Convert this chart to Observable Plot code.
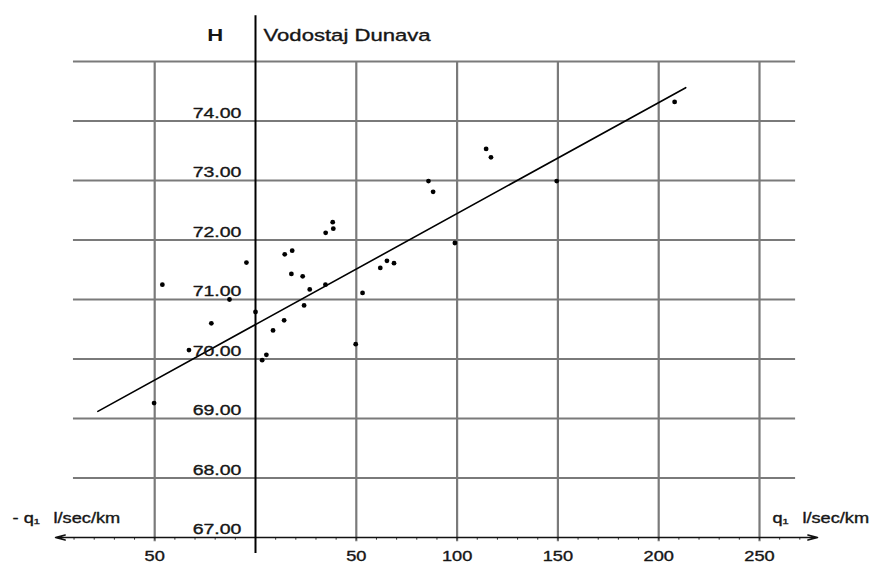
<!DOCTYPE html>
<html>
<head>
<meta charset="utf-8">
<script src="https://cdn.jsdelivr.net/npm/d3@7"></script>
<script src="https://cdn.jsdelivr.net/npm/@observablehq/plot@0.6"></script>
<style>
  body { margin: 0; background: #fff; }
</style>
</head>
<body>
<div id="chart"></div>
<script>
// Discharge q (l/sec/km) and water level H (Vodostaj Dunava)
const qValues = [-50.3, -46.2, -33, -21.9, -12.9, -4.5, 0, 3.3, 5.4, 8.7, 14.2, 14.5, 18.2, 17.8, 23.4, 24.1, 26.9, 34.7, 34.8, 38.6, 38.3, 49.7, 53.1, 61.9, 65.2, 68.7, 85.8, 88.1, 98.9, 114.4, 116.8, 149.4, 207.9];
const hValues = [69.26, 71.25, 70.15, 70.6, 71.0, 71.62, 70.79, 69.98, 70.07, 70.48, 70.65, 71.76, 71.82, 71.43, 71.39, 70.90, 71.17, 71.25, 72.12, 72.19, 72.30, 70.25, 71.11, 71.53, 71.65, 71.61, 72.99, 72.81, 71.95, 73.53, 73.39, 72.99, 74.32];

// Fitted line end points
const fitQ = [-78.2, 213.4];
const fitH = [69.12, 74.56];

// Grid and tick labels
const gridQ = [-50, 50, 100, 150, 200, 250];
const gridH = [68, 69, 70, 71, 72, 73, 74, 75];
const hTicks = [67, 68, 69, 70, 71, 72, 73, 74];
const qTicks = [-50, 50, 100, 150, 200, 250];
const qTickLabels = ["50", "50", "100", "150", "200", "250"];
const minorQ = d3.range(-90, 271, 10);

const points = qValues.map((q, i) => ({q, h: hValues[i]}));
const fit = fitQ.map((q, i) => ({q, h: fitH[i]}));
const qTickData = qTicks.map((q, i) => ({q, label: qTickLabels[i]}));
const axisArrows = [{x1: 0, x2: 278.8}, {x1: 0, x2: -99.2}];

const textFill = "#161616";
const textStroke = {stroke: textFill, strokeWidth: 0.35};

const plot = Plot.plot({
  width: 871,
  height: 563,
  margin: 0,
  x: {domain: [0, 250], range: [255, 759], axis: null},
  y: {domain: [67, 75], range: [537, 61], axis: null},
  style: {fontFamily: "'Liberation Sans', Arial, sans-serif", background: "#fff", color: textFill},
  marks: [
    Plot.ruleY(gridH, {y: d => d, x1: -90.3, x2: 267.9, stroke: "#7a7a7a", strokeWidth: 2.2}),
    Plot.ruleX(gridQ, {x: d => d, y1: 66.93, y2: 75, stroke: "#7a7a7a", strokeWidth: 2.2}),
    Plot.ruleX(minorQ, {x: d => d, y1: 66.955, y2: 67, stroke: "#333", strokeWidth: 1}),
    Plot.arrow(axisArrows, {x1: "x1", x2: "x2", y1: 67, y2: 67, stroke: "#111", strokeWidth: 1.5, headLength: 10, headAngle: 30}),
    Plot.ruleX([0], {x: d => d, y1: 66.73, y2: 75.77, stroke: "#000", strokeWidth: 2}),
    Plot.line(fit, {x: "q", y: "h", stroke: "#000", strokeWidth: 1.6}),
    Plot.dot(points, {x: "q", y: "h", r: 2.4, fill: "#000", stroke: null}),
    Plot.text(hTicks, {x: -7, y: d => d, text: d => d.toFixed(2), textAnchor: "end", lineAnchor: "bottom", dy: -3.5, fontSize: 15, fill: textFill, ...textStroke}),
    Plot.text(qTickData, {x: "q", y: 66.613, text: "label", textAnchor: "middle", lineAnchor: "bottom", fontSize: 14, fill: textFill, ...textStroke}),
    Plot.text(["H"], {x: -20, y: 75.345, text: d => d, textAnchor: "middle", lineAnchor: "bottom", fontSize: 17, fontWeight: "bold", fill: textFill}),
    Plot.text(["Vodostaj Dunava"], {x: 4, y: 75.345, text: d => d, textAnchor: "start", lineAnchor: "bottom", fontSize: 17, fill: textFill, ...textStroke}),
    Plot.text(["- q\u2081"], {x: -120.5, y: 67.252, text: d => d, textAnchor: "start", lineAnchor: "bottom", fontSize: 14, fill: textFill, ...textStroke}),
    Plot.text(["l/sec/km"], {x: -100.2, y: 67.252, text: d => d, textAnchor: "start", lineAnchor: "bottom", fontSize: 14, fill: textFill, ...textStroke}),
    Plot.text(["q\u2081"], {x: 256.4, y: 67.252, text: d => d, textAnchor: "start", lineAnchor: "bottom", fontSize: 14, fill: textFill, ...textStroke}),
    Plot.text(["l/sec/km"], {x: 271.3, y: 67.252, text: d => d, textAnchor: "start", lineAnchor: "bottom", fontSize: 14, fill: textFill, ...textStroke})
  ]
});

// the reference lettering is horizontally stretched
const stretch = 1.3;
d3.select(plot).selectAll("text").each(function() {
  const t = this.getAttribute("transform");
  if (t && t.includes("translate")) {
    this.setAttribute("transform", t + ` scale(${stretch},1)`);
  } else {
    const x = +(this.getAttribute("x") || 0);
    this.setAttribute("x", x / stretch);
    this.setAttribute("transform", (t ? t + " " : "") + `scale(${stretch},1)`);
  }
});

document.getElementById("chart").appendChild(plot);
</script>
</body>
</html>
